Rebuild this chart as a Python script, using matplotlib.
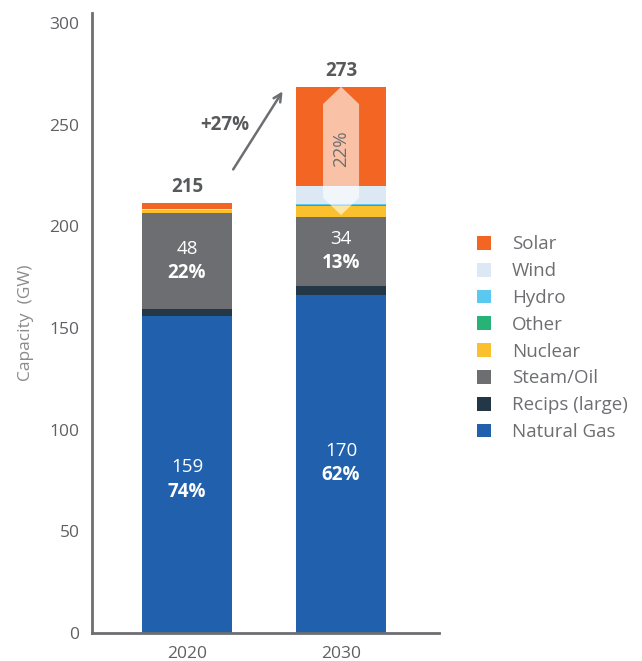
import matplotlib.pyplot as plt
from matplotlib.patches import Patch, Polygon

plt.rcParams['font.family'] = ['Open Sans', 'DejaVu Sans']

years = ["2020", "2030"]
techs = ["Natural Gas", "Recips (large)", "Steam/Oil", "Nuclear", "Other", "Hydro", "Wind", "Solar"]
colors = ["#2160ac", "#243746", "#6d6e71", "#fbc02d", "#27b377", "#5bc8f0", "#dce9f5", "#f26522"]
values = {
    "Natural Gas":    [156.0, 166.2],
    "Recips (large)": [3.4, 4.7],
    "Steam/Oil":      [47.0, 33.9],
    "Nuclear":        [1.6, 5.3],
    "Other":          [0.2, 0.6],
    "Hydro":          [0.1, 0.5],
    "Wind":           [0.5, 8.5],
    "Solar":          [2.8, 49.0],
}
totals = ["215", "273"]
gas_labels = [("159", "74%"), ("170", "62%")]
steam_labels = [("48", "22%"), ("34", "13%")]
growth = "+27%"
solar_share = "22%"

fig = plt.figure(figsize=(6.42, 6.61), dpi=100)
ax = fig.add_axes([92 / 642, 28 / 661, 347 / 642, 620 / 661])

x = [0, 1]
width = 0.584
bottoms = [0.0, 0.0]
seg = {}
for t, c in zip(techs, colors):
    v = values[t]
    ax.bar(x, v, width, bottom=bottoms, color=c, linewidth=0)
    seg[t] = [(bottoms[i], bottoms[i] + v[i]) for i in range(2)]
    bottoms = [bottoms[i] + v[i] for i in range(2)]

ax.set_xlim(-0.617, 1.636)
ax.set_ylim(0, 305)
ax.set_yticks(range(0, 301, 50))
ax.set_xticks(x)
ax.set_xticklabels(years)
ax.tick_params(length=0, labelsize=12.5, colors="#5f6063", pad=9)
ax.tick_params(axis="x", pad=9)
for s in ["top", "right"]:
    ax.spines[s].set_visible(False)
for s in ["left", "bottom"]:
    ax.spines[s].set_color("#6d6e71")
    ax.spines[s].set_linewidth(2)
ax.set_ylabel("Capacity  (GW)", fontsize=12.5, color="#8a8b8d", labelpad=11)

# labels inside bars
gas_shift = [-2.5, 0.5]
for i in range(2):
    lo, hi = seg["Natural Gas"][i]
    mid = (lo + hi) / 2 + gas_shift[i]
    ax.text(x[i], mid + 6, gas_labels[i][0], ha="center", va="center", color="white", fontsize=13.5)
    ax.text(x[i], mid - 6, gas_labels[i][1], ha="center", va="center", color="white", fontsize=13.5, fontweight="bold")
    lo, hi = seg["Steam/Oil"][i]
    mid = (lo + hi) / 2
    ax.text(x[i], mid + 6, steam_labels[i][0], ha="center", va="center", color="white", fontsize=13.5)
    ax.text(x[i], mid - 6, steam_labels[i][1], ha="center", va="center", color="white", fontsize=13.5, fontweight="bold")
    ax.text(x[i], bottoms[i] + 8, totals[i], ha="center", va="center", color="#58595b", fontsize=13.5, fontweight="bold")

# growth arrow
ax.annotate("", xy=(0.63, 267.6), xytext=(0.29, 226.9),
            arrowprops=dict(arrowstyle="->", color="#6d6e71", lw=1.8, mutation_scale=14))
ax.text(0.245, 250, growth, ha="center", va="center", color="#58595b", fontsize=13.5, fontweight="bold")

# double-headed block arrow over solar share
top = bottoms[1]
bot = seg["Nuclear"][1][0] + 0.8
hw = 0.117
head = 8.5
arrow = Polygon([(1, top), (1 + hw, top - head), (1 + hw, bot + head), (1, bot),
                 (1 - hw, bot + head), (1 - hw, top - head)],
                closed=True, facecolor="white", alpha=0.6, edgecolor="none", zorder=3)
ax.add_patch(arrow)
ax.text(1, (top + bot) / 2 + 1, solar_share, rotation=90, ha="center", va="center",
        color="#6d6e71", fontsize=13.5, zorder=4)

handles = [Patch(facecolor=c, edgecolor="none", label=t) for t, c in zip(techs, colors)][::-1]
fig.legend(handles=handles, loc="upper left", bbox_to_anchor=(468 / 642, 1 - 226 / 661),
           frameon=False, fontsize=13.5, labelcolor="#6d6e71", handlelength=0.75, handleheight=0.75,
           handletextpad=1.1, labelspacing=0.47, borderpad=0)

fig.savefig("out.png", dpi=100)
